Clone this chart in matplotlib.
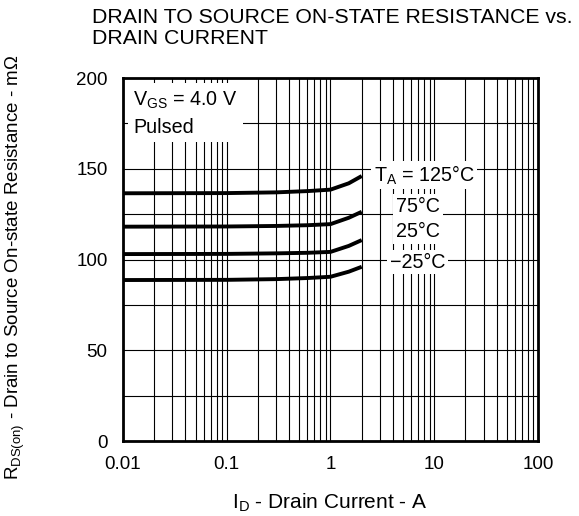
import matplotlib
matplotlib.use("Agg")
import matplotlib.pyplot as plt
import numpy as np

plt.rcParams['font.family'] = ['Liberation Sans', 'DejaVu Sans']
plt.rcParams['mathtext.fontset'] = 'custom'
plt.rcParams['mathtext.rm'] = 'Liberation Sans'

# data
drain_current = [0.01, 0.1, 0.3, 0.6, 1.0, 1.5, 2.0]
r_125 = [136.5, 136.6, 137.0, 137.7, 138.5, 142.0, 146.0]
r_75 = [118.1, 118.2, 118.5, 118.9, 119.5, 123.0, 126.3]
r_25 = [103.0, 103.1, 103.4, 103.7, 104.2, 107.5, 110.7]
r_m25 = [88.7, 88.8, 89.2, 89.8, 90.5, 93.3, 96.0]

x_ticks = [0.01, 0.1, 1, 10, 100]
x_tick_labels = ['0.01', '0.1', '1', '10', '100']
y_ticks = [0, 50, 100, 150, 200]

fig = plt.figure(figsize=(5.79, 5.16), dpi=100)
ax = fig.add_axes([0.2124, 0.1453, 0.7168, 0.7035])

for r in [r_125, r_75, r_25, r_m25]:
    ax.plot(drain_current, r, color='black', lw=2.8, solid_capstyle='butt', zorder=3)

ax.set_xscale('log')
ax.set_xlim(0.01, 100)
ax.set_ylim(0, 200)
ax.set_xticks(x_ticks)
ax.set_xticklabels(x_tick_labels)
ax.set_yticks(y_ticks)
ax.set_yticks(np.arange(0, 201, 25), minor=True)
ax.xaxis.set_minor_locator(matplotlib.ticker.LogLocator(base=10, subs=np.arange(2, 10)))
ax.xaxis.set_minor_formatter(matplotlib.ticker.NullFormatter())
ax.grid(True, which='both', color='black', lw=0.8)
ax.tick_params(which='both', length=0, labelsize=13.5, pad=11)
for s in ax.spines.values():
    s.set_linewidth(2)

ax.set_xlabel(r'I$_\mathregular{D}$ - Drain Current - A', fontsize=15)
ax.xaxis.set_label_coords(0.499, -0.14)
ax.set_ylabel(r'R$_\mathregular{DS(on)}$ - Drain to Source On-state Resistance - m$\Omega$',
              fontsize=13.5)
ax.yaxis.set_label_coords(-0.232, 0.479)

fig.text(0.159, 1 - 8 / 516, 'DRAIN TO SOURCE ON-STATE RESISTANCE vs.\nDRAIN CURRENT',
         fontsize=15.3, va='top', ha='left', linespacing=1.1)

box = dict(facecolor='white', edgecolor='none', pad=2)
ax.text(0.0125, 180.5, 'V$_\\mathregular{GS}$ = 4.0 V\nPulsed', fontsize=14.2, va='center',
        ha='left', linespacing=1.45, bbox=dict(facecolor='white', edgecolor='none', pad=4), zorder=4)
ax.text(7.96, 146.6, 'T$_\\mathregular{A}$ = 125°C', fontsize=14.2, ha='center', va='center',
        bbox=box, zorder=4)
ax.text(6.97, 122.3, '75°C\n25°C', fontsize=14.2, ha='center', va='center',
        linespacing=1.38, bbox=box, zorder=4)
ax.text(6.97, 98.6, '\u221225°C', fontsize=14.2, ha='center', va='center',
        bbox=box, zorder=4)

fig.savefig('out.png', dpi=100)
